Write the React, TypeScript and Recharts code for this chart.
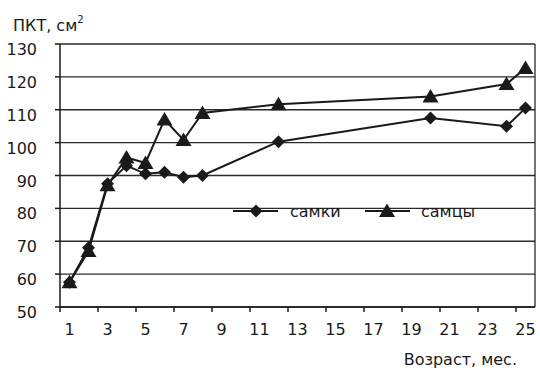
import React from 'react';
import { LineChart, Line, XAxis, YAxis, CartesianGrid, ReferenceLine } from 'recharts';

const ageMonths = [1, 2, 3, 4, 5, 6, 7, 8, 12, 20, 24, 25];
const females = [57.5, 68, 87.5, 93, 90.5, 91, 89.5, 90, 100.3, 107.5, 105, 110.5];
const males = [57.5, 67, 87, 95.5, 93.8, 107, 100.8, 109, 111.7, 114, 117.8, 122.7];
const xTickLabels = [1, 3, 5, 7, 9, 11, 13, 15, 17, 19, 21, 23, 25];
const yTicks = [50, 60, 70, 80, 90, 100, 110, 120, 130];
const seriesNames = ['самки', 'самцы'];

const data = ageMonths.map((m, i) => ({ m, f: females[i], s: males[i] }));
const xTicks = xTickLabels.flatMap((v) => [v - 0.5, v]);

const FONT = '"DejaVu Sans", Verdana, sans-serif';
const FS = 16;
const INK = '#1a1a1a';

const Diamond = (props: any) => {
  const { cx, cy } = props;
  if (cx == null || cy == null) return null;
  const r = 6.5;
  return <path d={`M${cx},${cy - r}L${cx + r},${cy}L${cx},${cy + r}L${cx - r},${cy}Z`} fill={INK} />;
};

const Triangle = (props: any) => {
  const { cx, cy } = props;
  if (cx == null || cy == null) return null;
  return <path d={`M${cx},${cy - 7.5}L${cx + 8},${cy + 6}L${cx - 8},${cy + 6}Z`} fill={INK} />;
};

const XTick = (props: any) => {
  const { x, y, payload } = props;
  const v = payload.value;
  if (Number.isInteger(v)) {
    return (
      <text x={x} y={y + 28} textAnchor="middle" fontSize={FS} fontFamily={FONT} fill={INK}>
        {v}
      </text>
    );
  }
  return <line x1={x} x2={x} y1={y} y2={y + 5} stroke={INK} strokeWidth={1.5} />;
};

const YTick = (props: any) => {
  const { x, y, payload } = props;
  return (
    <text x={x} y={y + 11} textAnchor="end" fontSize={FS} fontFamily={FONT} fill={INK}>
      {payload.value}
    </text>
  );
};

export default function App() {
  return (
    <div style={{ position: 'absolute', left: 0, top: 0, width: 540, height: 368, background: '#fff' }}>
      <LineChart
        width={540}
        height={368}
        data={data}
        margin={{ top: 44, right: 5, bottom: 0, left: 0 }}
      >
        <CartesianGrid vertical={false} stroke="#2a2a2a" strokeWidth={1.3} />
        <XAxis
          dataKey="m"
          type="number"
          domain={[0.5, 25.5]}
          ticks={xTicks}
          interval={0}
          tick={<XTick />}
          tickLine={false}
          tickSize={0}
          tickMargin={0}
          height={61}
          axisLine={{ stroke: INK, strokeWidth: 1.5 }}
          allowDataOverflow
        />
        <YAxis
          domain={[50, 130]}
          ticks={yTicks}
          interval={0}
          width={60}
          tick={<YTick />}
          tickSize={5}
          tickMargin={18}
          tickLine={{ stroke: INK, strokeWidth: 1.5 }}
          axisLine={{ stroke: INK, strokeWidth: 1.5 }}
        />
        <ReferenceLine x={25.5} stroke="#2a2a2a" strokeWidth={1.3} />
        <Line
          dataKey="f"
          name={seriesNames[0]}
          stroke={INK}
          strokeWidth={2}
          dot={<Diamond />}
          activeDot={false}
          isAnimationActive={false}
          connectNulls
        />
        <Line
          dataKey="s"
          name={seriesNames[1]}
          stroke={INK}
          strokeWidth={2}
          dot={<Triangle />}
          activeDot={false}
          isAnimationActive={false}
          connectNulls
        />
      </LineChart>
      <svg
        width={540}
        height={368}
        style={{ position: 'absolute', left: 0, top: 0, pointerEvents: 'none' }}
        fontFamily={FONT}
        fill={INK}
      >
        <text x={13} y={31} fontSize={FS}>
          ПКТ, см
          <tspan fontSize={10} dy={-8}>2</tspan>
        </text>
        <text x={517} y={365} fontSize={FS} textAnchor="end">
          Возраст, мес.
        </text>
        <g>
          <line x1={233} x2={278} y1={211} y2={211} stroke={INK} strokeWidth={2} />
          <Diamond cx={256} cy={211} />
          <text x={290} y={217} fontSize={FS}>{seriesNames[0]}</text>
          <line x1={365} x2={410} y1={211} y2={211} stroke={INK} strokeWidth={2} />
          <Triangle cx={387} cy={211} />
          <text x={421} y={217} fontSize={FS}>{seriesNames[1]}</text>
        </g>
      </svg>
    </div>
  );
}
